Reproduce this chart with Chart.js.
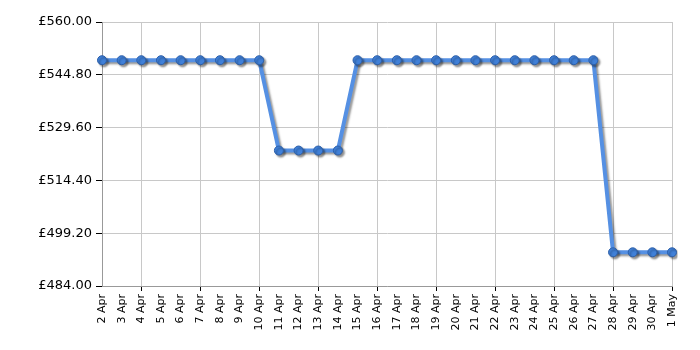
<!DOCTYPE html>
<html><head><meta charset="utf-8">
<script src="https://cdn.jsdelivr.net/npm/chart.js@4/dist/chart.umd.min.js"></script>
<style>html,body{margin:0;padding:0;background:#fff}#wrap{width:700px;height:350px}</style>
</head><body><div id="wrap"><canvas id="c" width="700" height="350"></canvas></div>
<script>
const dates = ["2 Apr","3 Apr","4 Apr","5 Apr","6 Apr","7 Apr","8 Apr","9 Apr","10 Apr","11 Apr","12 Apr","13 Apr","14 Apr","15 Apr","16 Apr","17 Apr","18 Apr","19 Apr","20 Apr","21 Apr","22 Apr","23 Apr","24 Apr","25 Apr","26 Apr","27 Apr","28 Apr","29 Apr","30 Apr","1 May"];
const prices = [549,549,549,549,549,549,549,549,549,523,523,523,523,549,549,549,549,549,549,549,549,549,549,549,549,549,493.7,493.7,493.7,493.7];
const yTicks = [484,499.2,514.4,529.6,544.8,560];

const shadow = {
  id:'shadow',
  beforeDatasetsDraw(chart){const c=chart.ctx;c.save();c.shadowColor='rgba(0,0,0,0.4)';c.shadowOffsetX=2;c.shadowOffsetY=2;c.shadowBlur=2;},
  afterDatasetsDraw(chart){chart.ctx.restore();}
};

new Chart(document.getElementById('c'),{
  type:'line',
  data:{labels:dates,datasets:[{data:prices,borderColor:'#5590e3',borderWidth:4,tension:0,
    pointRadius:4.5,pointBackgroundColor:'#4080d8',pointBorderColor:'#2d5fa8',pointBorderWidth:1}]},
  options:{responsive:false,animation:false,
    plugins:{legend:{display:false},tooltip:{enabled:false}},
    layout:{padding:{left:0,right:28,top:22,bottom:0}},
    scales:{
      x:{offset:false,
        afterFit(s){s.height=64;},
        grid:{color:ctx=>(ctx.index%3===2)?'#c8c8c8':'rgba(0,0,0,0)',tickColor:ctx=>(ctx.index%3===2)?'#000':'rgba(0,0,0,0)',tickLength:5},
        border:{color:'#999',width:1},
        ticks:{autoSkip:false,maxRotation:90,minRotation:90,color:'#000',font:{family:'DejaVu Sans',size:11},padding:3}},
      y:{min:484,max:560,
        afterFit(s){s.width=102;},
        afterBuildTicks(s){s.ticks=yTicks.map(v=>({value:v}));},
        grid:{color:'#c8c8c8',tickColor:'#000',tickLength:6},
        border:{color:'#999',width:1},
        ticks:{color:'#000',font:{family:'DejaVu Sans',size:13},padding:4,callback:v=>'£'+Number(v).toFixed(2)}}
    }
  },
  plugins:[shadow]
});
</script></body></html>
